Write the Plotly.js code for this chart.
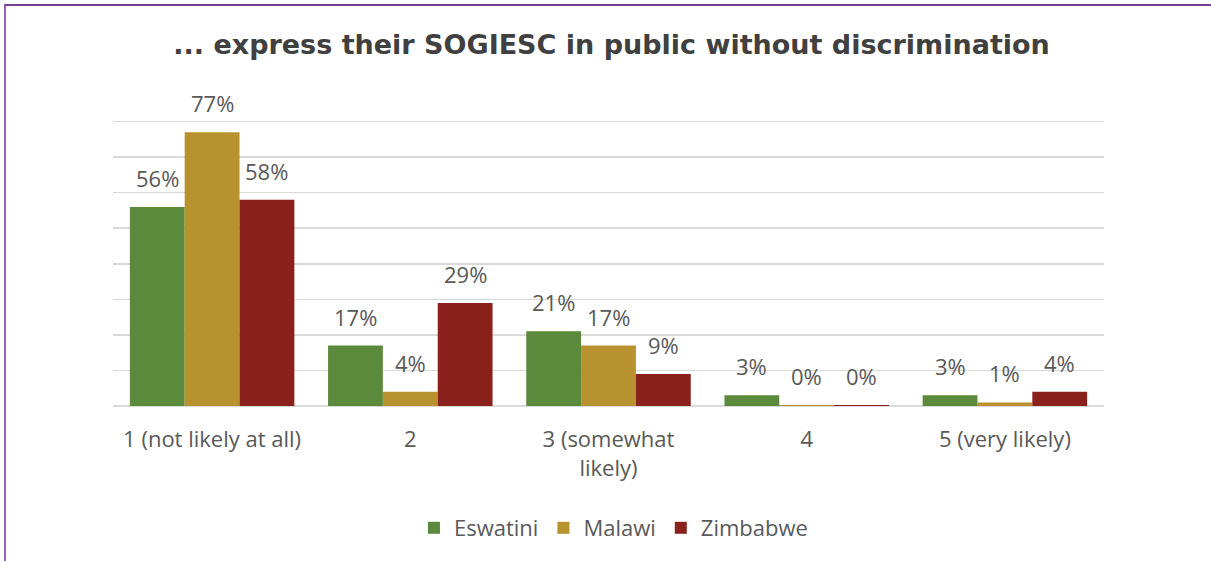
<!DOCTYPE html>
<html>
<head>
<meta charset="utf-8">
<script src="https://cdn.plot.ly/plotly-3.0.1.min.js"></script>
<style>
  html, body { margin: 0; padding: 0; background: #fff; }
  #wrap { position: relative; width: 1211px; height: 561px; }
  #chart { width: 1211px; height: 561px; }
  #frame { position: absolute; left: 4px; top: 4px; right: 0; bottom: 0;
           border-top: 2px solid #7b3f91; border-left: 2px solid #9b5fb5; pointer-events: none; }
</style>
</head>
<body>
<div id="wrap">
  <div id="chart"></div>
  <div id="frame"></div>
</div>
<script>
const categories = ["1 (not likely at all)", "2", "3 (somewhat<br>likely)", "4", "5 (very likely)"];
const seriesNames = ["Eswatini", "Malawi", "Zimbabwe"];
const eswatini = [56, 17, 21, 3, 3];
const malawi   = [77, 4, 17, 0.3, 1];
const zimbabwe = [58, 29, 9, 0.3, 4];
const colors = ["#5b8a3c", "#b8922e", "#8b211d"];

const allSeries = [eswatini, malawi, zimbabwe];
const W = 1211, H = 561;
const margin = {l: 113, r: 107, t: 86, b: 155};
const bargap = 0.17;
const plotW = W - margin.l - margin.r;
const barPx = plotW / categories.length * (1 - bargap) / allSeries.length;

const labelFont = {family: "Open Sans, Liberation Sans, sans-serif", size: 22, color: "#595959"};

const traces = allSeries.map((vals, i) => ({
  type: "bar",
  name: seriesNames[i],
  x: categories,
  y: vals,
  marker: {color: colors[i]},
  hoverinfo: "skip"
}));

const annotations = [];
allSeries.forEach((vals, i) => {
  vals.forEach((v, j) => {
    annotations.push({
      x: j, y: v, xref: "x", yref: "y",
      text: Math.round(v) + "%",
      showarrow: false,
      xshift: (i - 1) * barPx,
      yshift: 29,
      yanchor: "middle",
      font: labelFont
    });
  });
});

const layout = {
  width: W, height: H,
  margin: margin,
  paper_bgcolor: "#ffffff",
  plot_bgcolor: "#ffffff",
  title: {
    text: "<b>... express their SOGIESC in public without discrimination</b>",
    font: {family: "DejaVu Sans, Open Sans, sans-serif", size: 27, color: "#404040"},
    x: 0.505, xanchor: "center",
    y: 1 - 45 / H, yanchor: "middle"
  },
  barmode: "group",
  bargap: bargap,
  bargroupgap: 0,
  xaxis: {
    type: "category",
    tickfont: labelFont,
    showgrid: false,
    zeroline: false,
    showline: false,
    ticks: "",
    ticklabelstandoff: 18,
    fixedrange: true
  },
  yaxis: {
    range: [0, 90],
    dtick: 10,
    showticklabels: false,
    showgrid: true,
    gridcolor: "#d9d9d9",
    gridwidth: 1.5,
    zeroline: true,
    zerolinecolor: "#d9d9d9",
    zerolinewidth: 1.5,
    fixedrange: true
  },
  showlegend: true,
  legend: {
    orientation: "h",
    x: 0.505, xanchor: "center",
    y: (margin.b - (H - 528)) / -(H - margin.t - margin.b) , yanchor: "middle",
    font: labelFont,
    itemwidth: 30,
    tracegroupgap: 0
  },
  annotations: annotations
};

Plotly.newPlot("chart", traces, layout, {displayModeBar: false, staticPlot: true});
</script>
</body>
</html>
